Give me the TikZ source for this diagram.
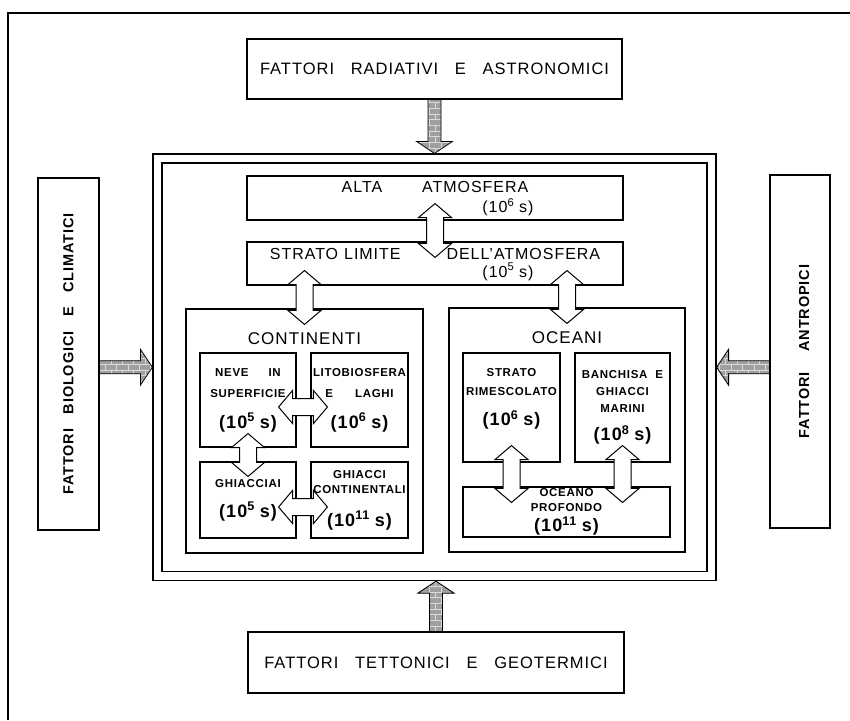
\documentclass[tikz,border=0pt]{standalone}
\usepackage{fontspec}
\setmainfont{Liberation Sans}[WordSpace=3,LetterSpace=6]
\usetikzlibrary{calc,patterns}

\newcommand{\tscale}[1]{(10\textsuperscript{#1}\hspace{5pt}s)}
\newcommand{\valfont}{\fontsize{18}{20}\selectfont\bfseries}

% hollow block arrow with two heads (axis aligned)
\newcommand{\dblarrow}[2]{%
  \draw[openarrow] let \p1=(#1), \p2=(#2),
      \n1={sign(\x2-\x1)}, \n2={sign(\y2-\y1)} in
    (\p1)
    -- ({\x1+(14*\n1-16.5*\n2)*1pt},{\y1+(14*\n2+16.5*\n1)*1pt})
    -- ({\x1+(14*\n1-8.5*\n2)*1pt},{\y1+(14*\n2+8.5*\n1)*1pt})
    -- ({\x2+(-14*\n1-8.5*\n2)*1pt},{\y2+(-14*\n2+8.5*\n1)*1pt})
    -- ({\x2+(-14*\n1-16.5*\n2)*1pt},{\y2+(-14*\n2+16.5*\n1)*1pt})
    -- (\p2)
    -- ({\x2+(-14*\n1+16.5*\n2)*1pt},{\y2+(-14*\n2-16.5*\n1)*1pt})
    -- ({\x2+(-14*\n1+8.5*\n2)*1pt},{\y2+(-14*\n2-8.5*\n1)*1pt})
    -- ({\x1+(14*\n1+8.5*\n2)*1pt},{\y1+(14*\n2-8.5*\n1)*1pt})
    -- ({\x1+(14*\n1+16.5*\n2)*1pt},{\y1+(14*\n2-16.5*\n1)*1pt})
    -- cycle;}

% filled block arrow, head at the second point
\newcommand{\solarrow}[2]{%
  \draw[fullarrow] let \p1=(#1), \p2=(#2),
      \n1={sign(\x2-\x1)}, \n2={sign(\y2-\y1)} in
    ({\x1+(6.5*\n2)*1pt},{\y1-(6.5*\n1)*1pt})
    -- ({\x2+(-12*\n1+6.5*\n2)*1pt},{\y2+(-12*\n2-6.5*\n1)*1pt})
    -- ({\x2+(-12*\n1+18*\n2)*1pt},{\y2+(-12*\n2-18*\n1)*1pt})
    -- (\p2)
    -- ({\x2+(-12*\n1-18*\n2)*1pt},{\y2+(-12*\n2+18*\n1)*1pt})
    -- ({\x2+(-12*\n1-6.5*\n2)*1pt},{\y2+(-12*\n2+6.5*\n1)*1pt})
    -- ({\x1-(6.5*\n2)*1pt},{\y1+(6.5*\n1)*1pt})
    -- cycle;}

\begin{document}
\begin{tikzpicture}[x=1pt, y=-1pt,
  box/.style={draw, line width=1.1pt, inner sep=0pt, align=center},
  big/.style={font=\fontsize{16.5}{20}\selectfont},
  atm/.style={font=\fontsize{16}{20}\selectfont, text depth=2pt},
  title/.style={font=\fontsize{17}{20}\selectfont},
  sub/.style={box, font=\fontsize{11.5}{18}\selectfont\bfseries},
  side/.style={font=\fontsize{14.5}{18}\selectfont\bfseries},
  openarrow/.style={draw, fill=white, line width=1pt, line join=miter},
  fullarrow/.style={draw, line width=0.8pt, preaction={fill=gray!75},
    pattern=bricks, pattern color=white!70!gray}]

\useasboundingbox (0,0) rectangle (850,720);
\draw[line width=1.3pt] (8,720) -- (8,13) -- (850,13);

% external factors
\node[box, big, minimum width=375, minimum height=60] (rad) at (434.5,69)
  {FATTORI RADIATIVI E ASTRONOMICI};
\node[box, big, minimum width=376, minimum height=61] (tet) at (436,662.5)
  {FATTORI TETTONICI E GEOTERMICI};
\node[box, minimum width=61, minimum height=352] (lbox) at (68.5,354) {};
\node[side, rotate=90] (ltxt) at (lbox) {FATTORI BIOLOGICI E CLIMATICI};
\node[box, minimum width=60, minimum height=353] (rbox) at (800,351.5) {};
\node[side, rotate=90] (rtxt) at ($(rbox)+(4,0)$) {FATTORI\hspace{6pt} ANTROPICI};

% climate system
\node[box, double, double distance=7.8pt, line width=1.2pt,
  minimum width=554, minimum height=417.5] (frame) at (434.5,367.25) {};

\node[box, atm, minimum width=376, minimum height=44] (alta) at (435,198)
  {ALTA\hspace{40pt}ATMOSFERA\\\hspace{146pt}\tscale{6}};
\node[box, atm, minimum width=376, minimum height=43] (strato) at (435,263.5)
  {STRATO\hspace{6pt}LIMITE\hspace{46pt}DELL'ATMOSFERA\\[-2pt]\hspace{146pt}\tscale{5}};

\node[box, minimum width=237, minimum height=244] (cont) at (304.5,431) {};
\node[title] (conttit) at ($(cont.north)+(0,30)$) {CONTINENTI};
\node[box, minimum width=236, minimum height=244] (ocea) at (567,430) {};
\node[title] (oceatit) at ($(ocea.north)+(0,30)$) {OCEANI};

\node[sub, minimum width=96, minimum height=94] (neve) at (248,400)
  {NEVE\hspace{20pt}IN\\[3pt]SUPERFICIE\\[13pt]{\valfont\tscale{5}}};
\node[sub, minimum width=97, minimum height=94] (lito) at (359.5,400)
  {LITOBIOSFERA\\[3pt]E\hspace{22pt}LAGHI\\[13pt]{\valfont\tscale{6}}};
\node[sub, minimum width=96, minimum height=76] (ghiac) at (248,500)
  {GHIACCIAI\\[12pt]{\valfont\tscale{5}}};
\node[sub, minimum width=97, minimum height=76] (ghcont) at (359.5,500)
  {GHIACCI\\[-3pt]CONTINENTALI\\[15pt]{\valfont\tscale{11}}};

\node[sub, minimum width=97, minimum height=109] (srim) at (511.5,407.5)
  {STRATO\\[1pt]RIMESCOLATO\\[12pt]{\valfont\tscale{6}}\\[3pt]\mbox{}};
\node[sub, minimum width=95, minimum height=109] (banch) at (622.5,407.5)
  {BANCHISA\hspace{8pt}E\\[-1pt]GHIACCI\\[-1pt]MARINI\\[10pt]{\valfont\tscale{8}}};
\node[sub, minimum width=207, minimum height=50] (prof) at (566.5,512)
  {OCEANO\\[-3pt]PROFONDO\\[1.5pt]{\valfont\tscale{11}}};

% forcing
\solarrow{rad.south}{$(rad.south |- frame.north)+(0,-4.5)$}
\solarrow{tet.north}{$(tet.north |- frame.south)+(0,4.5)$}
\solarrow{lbox.east |- frame.west}{$(frame.west)+(-4.5,0)$}
\solarrow{rbox.west |- frame.east}{$(frame.east)+(4.5,0)$}

% exchanges
\dblarrow{$(alta.south)+(0,-17)$}{$(strato.north)+(0,16)$}
\dblarrow{$(cont.north |- strato.south)+(0,-15)$}{$(cont.north)+(0,16)$}
\dblarrow{$(ocea.north |- strato.south)+(0,-15)$}{$(ocea.north)+(0,16)$}
\dblarrow{$(neve.south)+(0,-14)$}{$(ghiac.north)+(0,15)$}
\dblarrow{$(neve.east)+(-18,7)$}{$(lito.west |- neve.east)+(17,7)$}
\dblarrow{$(ghiac.east)+(-18,7)$}{$(ghcont.west |- ghiac.east)+(17,7)$}
\dblarrow{$(srim.south)+(0,-17)$}{$(srim.south |- prof.north)+(0,16)$}
\dblarrow{$(banch.south)+(0,-17)$}{$(banch.south |- prof.north)+(0,16)$}
\end{tikzpicture}
\end{document}
